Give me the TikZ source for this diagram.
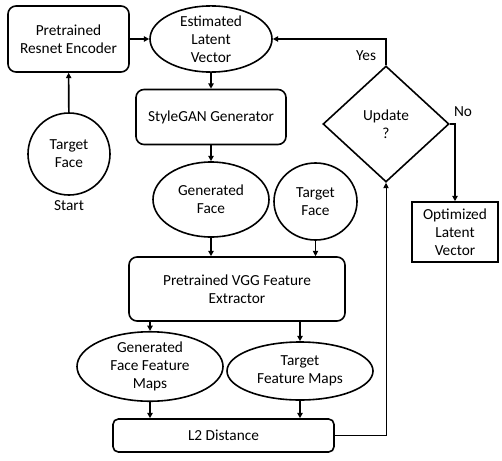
\documentclass[tikz,border=0pt]{standalone}
\usepackage{fontspec}
\setmainfont{Carlito}
\usetikzlibrary{shapes.geometric,arrows.meta}

\begin{document}
\begin{tikzpicture}[x=0.75pt,y=-0.75pt,
  font=\fontsize{11.5}{13.5}\selectfont,
  box/.style={draw,rounded corners=6pt,line width=1.2pt,align=center,inner sep=0pt},
  oval/.style={draw,ellipse,line width=1.2pt,align=center,inner sep=0pt},
  link/.style={line width=1.2pt,-{Triangle[length=4pt,width=4pt]}},
  thinlink/.style={line width=0.7pt,-{Triangle[length=4pt,width=4pt]}}]
{
\useasboundingbox (0,0) rectangle (502,460);
% top row
\node[box,minimum width=90.75pt,minimum height=49.5pt] (enc) at (68.5,39) {Pretrained\\Resnet Encoder};
\node[oval,minimum width=91.5pt,minimum height=49.5pt] (est) at (211,39) {Estimated\\Latent\\Vector};
\node[oval,minimum width=61.5pt,minimum height=61.5pt] (face1) at (69,154) {Target\\Face};
\node (start) at (69,206) {Start};
%
\node[box,minimum width=112.5pt,minimum height=41.25pt] (gan) at (211,117) {StyleGAN Generator};
\node[oval,minimum width=87pt,minimum height=56.25pt] (gen) at (211,199.5) {Generated\\Face};
\node[oval,minimum width=62.25pt,minimum height=57.75pt] (face2) at (315.5,201.5) {Target\\Face};
\node[box,minimum width=162pt,minimum height=48pt] (vgg) at (237,289) {Pretrained VGG Feature\\Extractor};
\node[oval,minimum width=109.5pt,minimum height=44.25pt] (gffm) at (150,366.5) {Generated\\Face Feature\\Maps};
\node[oval,minimum width=109.5pt,minimum height=43.5pt] (tfm) at (300,371) {Target\\Feature Maps};
\node[box,rounded corners=4pt,minimum width=165.75pt,minimum height=24.75pt] (l2) at (223.5,435.5) {L2 Distance};
% decision
\node[draw,diamond,line width=1.2pt,align=center,inner sep=0pt,minimum width=94.5pt,minimum height=87pt] (upd) at (386,124) {Update\\?};
\node[draw,line width=1.2pt,align=center,inner sep=0pt,minimum width=64.5pt,minimum height=45pt] (opt) at (455,232) {Optimized\\Latent\\Vector};
\node (yes) at (366,56) {Yes};
\node (no) at (463,112) {No};
%
\draw[link] (enc) -- (est);
\draw[link] (face1) -- (enc);
\draw[link] (est) -- (gan);
\draw[link] (gan) -- (gen);
\draw[link] (gen.south) -- (gen.south|-vgg.north);
\draw[thinlink] (face2.south) -- (face2.south|-vgg.north);
\draw[link] (vgg.south-|gffm.north) -- (gffm.north);
\draw[link] (vgg.south-|tfm.north) -- (tfm.north);
\draw[link] (gffm.south) -- (gffm.south|-l2.north);
\draw[link] (tfm.south) -- (tfm.south|-l2.north);
\draw[thinlink] (l2.east) -| (upd.south);
\draw[link] (upd.north) |- (est.east);
\draw[link] (upd.east) -| (opt.north);
}
\end{tikzpicture}
\end{document}
